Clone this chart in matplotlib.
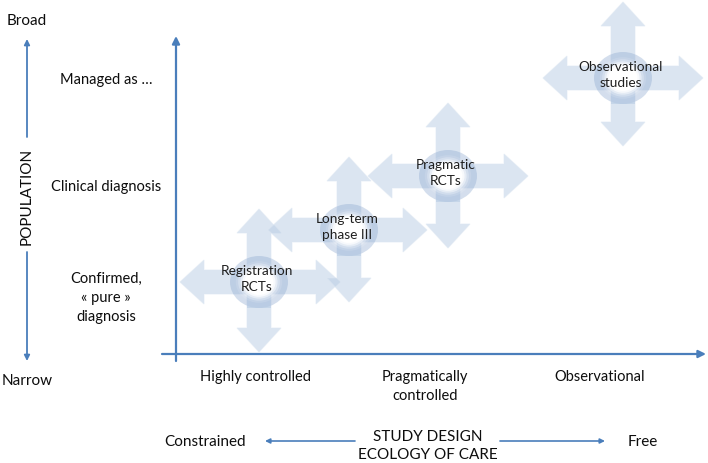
import matplotlib
matplotlib.use("Agg")
import matplotlib.pyplot as plt
from matplotlib.patches import Polygon, Ellipse, Rectangle

plt.rcParams['font.family'] = ['Lato', 'DejaVu Sans']

# ---- data (diagram coordinates, pixel-like units, y grows downward) ----
study_labels = ["Registration\nRCTs", "Long-term\nphase III", "Pragmatic\nRCTs", "Observational\nstudies"]
study_x = [259, 349, 448, 623]
study_y = [283, 231, 177, 79]
arm_left = [79, 81, 80, 80]
arm_right = [81, 78, 80, 80]
arm_up = [73, 73, 73, 76]
arm_down = [70, 72, 72, 68]

population_labels = ["Managed as …", "Clinical diagnosis", "Confirmed,\n« pure »\ndiagnosis"]
population_y = [80, 187, 298]
design_labels = ["Highly controlled", "Pragmatically\ncontrolled", "Observational"]
design_x = [256, 425, 600]

AX_BLUE = '#4a7ebb'
ARROW_FILL = '#b8cce4'
RING = '#8eaad0'
TXT = '#0d0d0d'

fig = plt.figure(figsize=(7.08, 4.64), dpi=100)
ax = fig.add_axes([0, 0, 1, 1])
ax.set_xlim(0, 708)
ax.set_ylim(464, 0)
ax.axis('off')

# shape parameters
s, h, L = 12, 22, 24
rx, ry = 29, 26


def cross(cx, cy, al, ar, au, ad):
    return [
        (cx, cy - au), (cx + h, cy - au + L), (cx + s, cy - au + L), (cx + s, cy - s),
        (cx + ar - L, cy - s), (cx + ar - L, cy - h), (cx + ar, cy), (cx + ar - L, cy + h),
        (cx + ar - L, cy + s), (cx + s, cy + s), (cx + s, cy + ad - L), (cx + h, cy + ad - L),
        (cx, cy + ad), (cx - h, cy + ad - L), (cx - s, cy + ad - L), (cx - s, cy + s),
        (cx - al + L, cy + s), (cx - al + L, cy + h), (cx - al, cy), (cx - al + L, cy - h),
        (cx - al + L, cy - s), (cx - s, cy - s), (cx - s, cy - au + L), (cx - h, cy - au + L),
    ]


for i, lab in enumerate(study_labels):
    cx, cy = study_x[i], study_y[i]
    ax.add_patch(Polygon(cross(cx, cy, arm_left[i], arm_right[i], arm_up[i], arm_down[i]),
                         closed=True, facecolor=ARROW_FILL, alpha=0.5,
                         edgecolor='#dbe5f1', linewidth=0.8, zorder=2 + i * 0.1))
    z = 2.05 + i * 0.1
    ax.add_patch(Ellipse((cx, cy), 2 * rx, 2 * ry, facecolor=RING, alpha=0.38,
                         edgecolor='none', zorder=z))
    ax.add_patch(Rectangle((cx - s, cy), 2 * s, ry, facecolor=ARROW_FILL, alpha=0.6,
                           edgecolor='none', zorder=z + 0.001))
    for f, a in [(0.8, 0.12), (0.72, 0.25), (0.64, 0.45), (0.57, 0.7), (0.5, 1.0)]:
        ax.add_patch(Ellipse((cx, cy), 2 * rx * f, 2 * ry * f, facecolor='white', alpha=a,
                             edgecolor='none', zorder=z + 0.002))
    ax.text(cx - 2, cy - 4, lab, ha='center', va='center', fontsize=9.8, color='#1f1f1f',
            linespacing=1.35, zorder=5)

# main axes lines
ax.annotate('', xy=(176, 37), xytext=(176, 362),
            arrowprops=dict(arrowstyle='-|>', color=AX_BLUE, lw=1.6, mutation_scale=11,
                            shrinkA=0, shrinkB=0), zorder=1)
ax.annotate('', xy=(706, 355), xytext=(162, 355),
            arrowprops=dict(arrowstyle='-|>', color=AX_BLUE, lw=1.6, mutation_scale=11,
                            shrinkA=0, shrinkB=0), zorder=1)

# population axis
ax.annotate('', xy=(27, 40), xytext=(27, 138),
            arrowprops=dict(arrowstyle='-|>', color=AX_BLUE, lw=1.3, mutation_scale=8,
                            shrinkA=0, shrinkB=0))
ax.annotate('', xy=(27, 362), xytext=(27, 253),
            arrowprops=dict(arrowstyle='-|>', color=AX_BLUE, lw=1.3, mutation_scale=8,
                            shrinkA=0, shrinkB=0))
ax.text(27, 196, 'POPULATION', rotation=90, ha='center', va='center', fontsize=11, color=TXT)
ax.text(27, 21, 'Broad', ha='center', va='center', fontsize=11, color=TXT)
ax.text(27, 381, 'Narrow', ha='center', va='center', fontsize=11, color=TXT)

for lab, y in zip(population_labels, population_y):
    ax.text(106, y, lab, ha='center', va='center', fontsize=10.5, color=TXT, linespacing=1.45)

for lab, x in zip(design_labels, design_x):
    ax.text(x, 370, lab, ha='center', va='top', fontsize=10.5, color=TXT, linespacing=1.45)

# bottom design axis
ax.text(205, 442, 'Constrained', ha='center', va='center', fontsize=11, color=TXT)
ax.text(643, 442, 'Free', ha='center', va='center', fontsize=11, color=TXT)
ax.text(428, 446, 'STUDY DESIGN\nECOLOGY OF CARE', ha='center', va='center', fontsize=11,
        color=TXT, linespacing=1.3)
ax.annotate('', xy=(265, 442), xytext=(355, 442),
            arrowprops=dict(arrowstyle='-|>', color=AX_BLUE, lw=1.2, mutation_scale=7,
                            shrinkA=0, shrinkB=0))
ax.annotate('', xy=(605, 442), xytext=(500, 442),
            arrowprops=dict(arrowstyle='-|>', color=AX_BLUE, lw=1.2, mutation_scale=7,
                            shrinkA=0, shrinkB=0))

fig.savefig('out.png', dpi=100)
